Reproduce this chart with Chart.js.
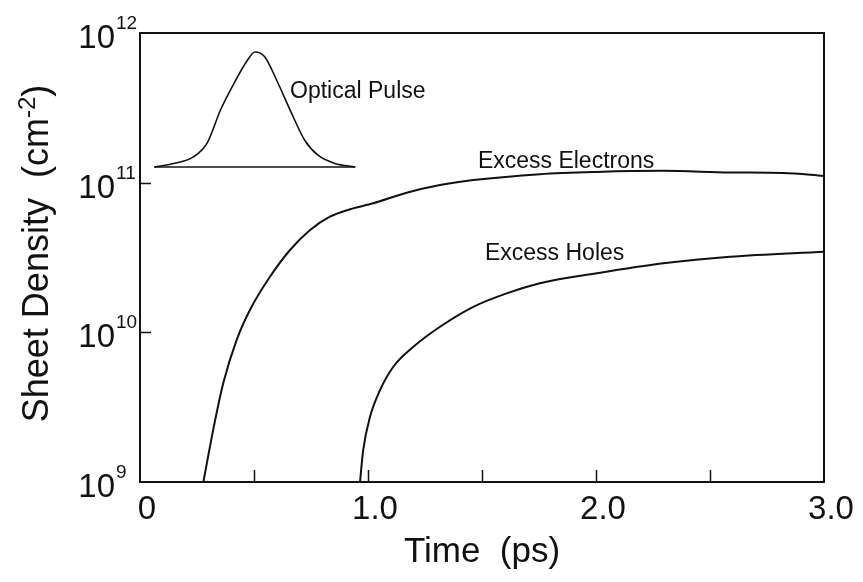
<!DOCTYPE html>
<html>
<head>
<meta charset="utf-8">
<title>Sheet density vs time</title>
<script src="https://cdn.jsdelivr.net/npm/chart.js@4.4.1/dist/chart.umd.min.js"></script>
<style>
  html, body { margin: 0; padding: 0; background: #fff; }
</style>
</head>
<body>
<canvas id="chart" width="863" height="582"></canvas>
<script>
// values (time in ps, density in cm^-2)
const electronTime = [0.278, 0.321, 0.365, 0.424, 0.482, 0.570, 0.658, 0.746, 0.833, 0.921, 1.023, 1.170, 1.316, 1.462, 1.754, 2.003, 2.295, 2.588, 2.821, 3.0];
const electronDensity = [1.0e9, 2.23e9, 4.57e9, 8.9e9, 1.41e10, 2.35e10, 3.55e10, 4.83e10, 5.93e10, 6.64e10, 7.28e10, 8.57e10, 9.64e10, 1.04e11, 1.14e11, 1.18e11, 1.20e11, 1.17e11, 1.16e11, 1.11e11];

const holeTime = [0.965, 0.979, 1.009, 1.053, 1.111, 1.199, 1.316, 1.462, 1.608, 1.754, 2.003, 2.295, 2.588, 3.0];
const holeDensity = [1.0e9, 1.64e9, 2.73e9, 4.12e9, 5.89e9, 8.01e9, 1.09e10, 1.48e10, 1.82e10, 2.13e10, 2.48e10, 2.89e10, 3.20e10, 3.46e10];

// inset optical pulse, relative intensity (0 = inset baseline, 1 = peak)
const pulseTime = [0.063, 0.148, 0.236, 0.295, 0.354, 0.413, 0.472, 0.504, 0.546, 0.605, 0.664, 0.723, 0.782, 0.855, 0.944];
const pulseIntensity = [0.0, 0.03, 0.09, 0.21, 0.50, 0.73, 0.93, 1.0, 0.96, 0.73, 0.47, 0.23, 0.10, 0.03, 0.0];

const xTickLabels = { 0: '0', 1: '1.0', 2: '2.0', 3: '3.0' };
const yDecades = [9, 10, 11, 12];

const curveLabels = [
  { text: 'Optical Pulse', t: 0.658, v: 3.68e11 },
  { text: 'Excess Electrons', t: 1.482, v: 1.25e11 },
  { text: 'Excess Holes', t: 1.513, v: 3.04e10 }
];

const FONT = '"Liberation Sans", Arial, Helvetica, sans-serif';
const INK = '#111';

const toPoints = (xs, ys) => xs.map((x, i) => ({ x: x, y: ys[i] }));

// frame, inward ticks, log labels with superscripts, y title, curve labels
const decorations = {
  id: 'decorations',
  afterDatasetsDraw(chart) {
    const ctx = chart.ctx;
    const area = chart.chartArea;
    const xs = chart.scales.x;
    const ys = chart.scales.y;
    ctx.save();
    ctx.strokeStyle = INK;
    ctx.fillStyle = INK;

    ctx.lineWidth = 2;
    ctx.strokeRect(area.left, area.top, area.right - area.left, area.bottom - area.top);

    ctx.lineWidth = 1.5;
    ctx.beginPath();
    xs.ticks.forEach(tk => {
      if (tk.value <= 0 || tk.value >= 3) return;
      const px = Math.round(xs.getPixelForValue(tk.value)) + 0.5;
      ctx.moveTo(px, area.bottom);
      ctx.lineTo(px, area.bottom - 12);
    });
    yDecades.forEach(d => {
      if (d === 9 || d === 12) return;
      const py = Math.round(ys.getPixelForValue(Math.pow(10, d))) + 0.5;
      ctx.moveTo(area.left, py);
      ctx.lineTo(area.left + 11, py);
    });
    ctx.stroke();

    // 10^n labels
    yDecades.forEach(d => {
      const py = ys.getPixelForValue(Math.pow(10, d));
      ctx.textBaseline = 'alphabetic';
      ctx.font = '33px ' + FONT;
      ctx.textAlign = 'right';
      ctx.fillText('10', 115, py + 15);
      ctx.font = '19px ' + FONT;
      ctx.textAlign = 'left';
      ctx.fillText(String(d), 116, py - 4);
    });

    // y axis title, rotated
    ctx.save();
    ctx.translate(48, (area.top + area.bottom) / 2 - 4);
    ctx.rotate(-Math.PI / 2);
    ctx.textBaseline = 'alphabetic';
    ctx.textAlign = 'left';
    const main = 'Sheet Density  (cm';
    const sup = '-2';
    ctx.font = '36px ' + FONT;
    const wMain = ctx.measureText(main).width;
    const wClose = ctx.measureText(')').width;
    ctx.font = '24px ' + FONT;
    const wSup = ctx.measureText(sup).width;
    const total = wMain + wSup + wClose;
    let x0 = -total / 2;
    ctx.font = '36px ' + FONT;
    ctx.fillText(main, x0, 0);
    ctx.font = '24px ' + FONT;
    ctx.fillText(sup, x0 + wMain, -13);
    ctx.font = '36px ' + FONT;
    ctx.fillText(')', x0 + wMain + wSup, 0);
    ctx.restore();

    // curve labels
    ctx.font = '23px ' + FONT;
    ctx.textAlign = 'left';
    ctx.textBaseline = 'alphabetic';
    curveLabels.forEach(l => {
      ctx.fillText(l.text, xs.getPixelForValue(l.t), ys.getPixelForValue(l.v));
    });
    ctx.restore();
  }
};

const lineStyle = {
  borderColor: INK,
  borderWidth: 2,
  pointRadius: 0,
  fill: false,
  cubicInterpolationMode: 'monotone'
};

new Chart(document.getElementById('chart').getContext('2d'), {
  type: 'line',
  data: {
    datasets: [
      Object.assign({ label: 'Excess Electrons', data: toPoints(electronTime, electronDensity), yAxisID: 'y' }, lineStyle),
      Object.assign({ label: 'Excess Holes', data: toPoints(holeTime, holeDensity), yAxisID: 'y' }, lineStyle),
      Object.assign({ label: 'Optical Pulse', data: toPoints(pulseTime, pulseIntensity), yAxisID: 'pulse' }, lineStyle, { borderWidth: 1.6 }),
      Object.assign({
        label: 'Pulse baseline',
        data: [{ x: pulseTime[0], y: 0 }, { x: pulseTime[pulseTime.length - 1], y: 0 }],
        yAxisID: 'pulse'
      }, lineStyle, { borderWidth: 1.6 })
    ]
  },
  options: {
    responsive: false,
    animation: false,
    layout: { padding: { top: 33, right: 39, left: 0, bottom: 0 } },
    plugins: {
      legend: { display: false },
      tooltip: { enabled: false }
    },
    scales: {
      x: {
        type: 'linear',
        min: 0,
        max: 3,
        grid: { display: false, drawTicks: false },
        border: { display: false },
        ticks: {
          stepSize: 0.5,
          autoSkip: false,
          maxRotation: 0,
          padding: 8,
          labelOffset: 7,
          color: INK,
          font: { family: FONT, size: 33 },
          callback: v => (xTickLabels[v] !== undefined ? xTickLabels[v] : '')
        },
        title: {
          display: true,
          text: 'Time  (ps)',
          color: INK,
          font: { family: FONT, size: 35 },
          padding: { top: 0, bottom: 9 }
        },
        afterFit(scale) { scale.height = 100; }
      },
      y: {
        type: 'logarithmic',
        min: 1e9,
        max: 1e12,
        grid: { display: false, drawTicks: false },
        border: { display: false },
        ticks: { display: false },
        afterFit(scale) { scale.width = 140; }
      },
      pulse: {
        type: 'linear',
        display: false,
        min: -2.74,
        max: 1.165
      }
    }
  },
  plugins: [decorations]
});
</script>
</body>
</html>
